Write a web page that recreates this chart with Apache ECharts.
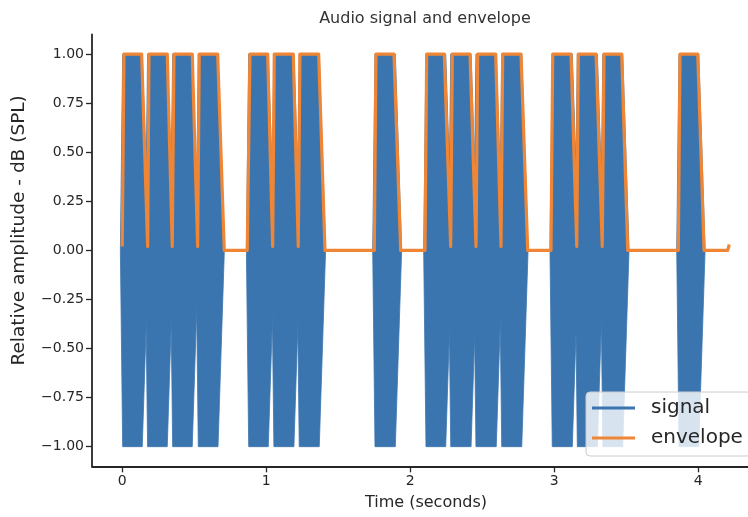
<!DOCTYPE html>
<html>
<head>
<meta charset="utf-8">
<script src="https://cdn.jsdelivr.net/npm/echarts@6/dist/echarts.min.js"></script>
<style>html,body{margin:0;padding:0;background:#fff}#c{width:748px;height:517px}</style>
</head>
<body>
<div id="c"></div>
<script>
// ---- data ----
var title = 'Audio signal and envelope';
var xName = 'Time (seconds)';
var yName = 'Relative amplitude - dB (SPL)';
var xTicks = [0, 1, 2, 3, 4];
var xTickLabels = ['0', '1', '2', '3', '4'];
var yTicks = [-1, -0.75, -0.5, -0.25, 0, 0.25, 0.5, 0.75, 1];
var yTickLabels = ['\u22121.00', '\u22120.75', '\u22120.50', '\u22120.25', '0.00', '0.25', '0.50', '0.75', '1.00'];

// signal: tone bursts (seconds) and their amplitude
var burstStart = [0.003, 0.176, 0.350, 0.528, 0.878, 1.053, 1.229, 1.755, 2.109, 2.281, 2.456, 2.635, 2.986, 3.160, 3.337, 3.866];
var burstEnd   = [0.139, 0.3125, 0.486, 0.665, 1.014, 1.192, 1.368, 1.896, 2.246, 2.422, 2.597, 2.774, 3.125, 3.299, 3.475, 4.003];
var burstHigh = 1.0, burstLow = -1.0;
var burstAttack = 0.016;   // visible lead of each burst at zero level (s)
var burstDecay = 0.044;    // visible tail of each burst at zero level (s)

// envelope polyline
var envT = [0.000, 0.0118, 0.1347, 0.1764, 0.1854, 0.3125, 0.3472, 0.3590, 0.4861, 0.5236, 0.5347, 0.6625, 0.7083,
            0.868, 0.8868, 1.0097, 1.0444, 1.0556, 1.1875, 1.2222, 1.2340, 1.3639, 1.4076,
            1.750, 1.7618, 1.8868, 1.9333,
            2.1021, 2.1139, 2.2361, 2.2806, 2.2917, 2.4146, 2.4563, 2.4681, 2.5931, 2.6299, 2.6417, 2.7688, 2.8153,
            2.977, 2.989, 3.116, 3.156, 3.167, 3.290, 3.333, 3.345, 3.468, 3.510,
            3.861, 3.873, 3.996, 4.040,
            4.204, 4.215];
var envV = [0.02, 1, 1, 0.02, 1, 1, 0.02, 1, 1, 0.02, 1, 1, 0,
            0, 1, 1, 0.02, 1, 1, 0.02, 1, 1, 0,
            0, 1, 1, 0,
            0, 1, 1, 0.02, 1, 1, 0.02, 1, 1, 0.02, 1, 1, 0,
            0, 1, 1, 0.02, 1, 1, 0.02, 1, 1, 0,
            0, 1, 1, 0,
            0, 0.03];

// ---- styling ----
var BLUE = '#3b75af', ORANGE = '#ef8636', INK = '#262626';
var FONT = 'DejaVu Sans';

var signalData = burstStart.map(function (s, i) { return [s, burstEnd[i]]; });
var envData = envT.map(function (t, i) { return [t, envV[i]]; });

function lab(ticks, labels) {
  return function (v) {
    for (var i = 0; i < ticks.length; i++) if (Math.abs(ticks[i] - v) < 1e-9) return labels[i];
    return '';
  };
}

var chart = echarts.init(document.getElementById('c'), null, {renderer: 'canvas'});
chart.setOption({
  animation: false,
  backgroundColor: '#ffffff',
  textStyle: {fontFamily: FONT},
  title: {
    text: title, left: 420, top: 6, textAlign: 'center',
    textStyle: {fontFamily: FONT, fontSize: 16, fontWeight: 'normal', color: '#333333'}
  },
  grid: {left: 92, right: 0, top: 34.4, bottom: 50.7, containLabel: false},
  legend: {
    orient: 'vertical', left: 586, top: 392,
    padding: [6, 8, 8, 6], itemGap: 10,
    itemWidth: 43, itemHeight: 3,
    backgroundColor: 'rgba(255,255,255,0.8)', borderColor: '#cccccc', borderWidth: 1, borderRadius: 4,
    textStyle: {fontFamily: FONT, fontSize: 20, color: INK, padding: [0, 0, 0, 11]},
    data: [
      {name: 'signal', icon: 'rect', itemStyle: {color: BLUE}},
      {name: 'envelope', icon: 'rect', itemStyle: {color: ORANGE}}
    ]
  },
  xAxis: {
    type: 'value', min: -0.21, max: 4.345,
    name: xName, nameLocation: 'middle', nameGap: 29,
    nameTextStyle: {fontFamily: FONT, fontSize: 16, color: INK, padding: [0, 0, 0, 12]},
    splitLine: {show: false},
    axisLine: {show: true, onZero: false, lineStyle: {color: INK, width: 1.8}},
    axisTick: {show: true, length: 6, lineStyle: {color: INK, width: 1.3}, customValues: xTicks},
    axisLabel: {fontFamily: FONT, fontSize: 14, color: INK, margin: 8, customValues: xTicks, formatter: lab(xTicks, xTickLabels)}
  },
  yAxis: {
    type: 'value', min: -1.1, max: 1.1,
    name: yName, nameLocation: 'middle', nameGap: 63, nameRotate: 90,
    nameTextStyle: {fontFamily: FONT, fontSize: 18.5, color: INK, padding: [0, 0, 0, 40]},
    splitLine: {show: false},
    axisLine: {show: true, onZero: false, lineStyle: {color: INK, width: 1.8}},
    axisTick: {show: true, length: 6, lineStyle: {color: INK, width: 1.3}, customValues: yTicks},
    axisLabel: {fontFamily: FONT, fontSize: 14, color: INK, margin: 8, customValues: yTicks, formatter: lab(yTicks, yTickLabels)}
  },
  series: [
    {
      name: 'signal', type: 'custom', z: 2,
      itemStyle: {color: BLUE},
      dimensions: ['start', 'end'],
      encode: {x: [0, 1]},
      data: signalData,
      renderItem: function (params, api) {
        var s = api.value(0), e = api.value(1);
        var pts = [[s, burstLow], [s - burstAttack, 0], [s, burstHigh], [e, burstHigh], [e + burstDecay, 0], [e, burstLow]]
          .map(function (p) { return api.coord(p); });
        return {type: 'polygon', shape: {points: pts}, style: {fill: BLUE, stroke: BLUE, lineWidth: 0.8}};
      }
    },
    {
      name: 'envelope', type: 'line', z: 3,
      data: envData, showSymbol: false, symbol: 'none',
      itemStyle: {color: ORANGE},
      lineStyle: {color: ORANGE, width: 3.2, join: 'round', cap: 'butt'}
    }
  ]
});
</script>
</body>
</html>
